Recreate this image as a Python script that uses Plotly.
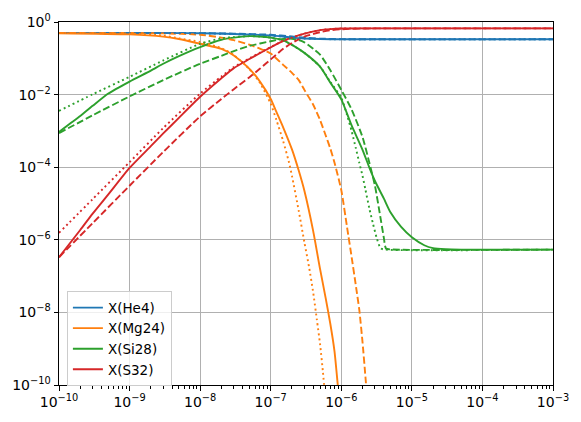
import plotly.graph_objects as go

# ---------------- data ----------------
t_he4 = [1e-10, 1e-9, 3e-9, 1e-8, 3e-8, 1e-7, 2e-7, 3e-7, 5e-7, 1e-6, 3e-6, 1e-3]
he4_solid = [0.500, 0.500, 0.499, 0.490, 0.468, 0.427, 0.372, 0.352, 0.340, 0.334, 0.3335, 0.3333]
he4_dashed = [0.500, 0.500, 0.500, 0.494, 0.478, 0.445, 0.400, 0.370, 0.348, 0.337, 0.3336, 0.3333]
he4_dotted = [0.500, 0.500, 0.499, 0.488, 0.465, 0.425, 0.372, 0.352, 0.340, 0.334, 0.3335, 0.3333]

t_mg24_solid = [1e-10, 1e-9, 3e-9, 5e-9, 1e-8, 2e-8, 3e-8, 5e-8, 7e-8, 1e-7, 1.2e-7, 1.5e-7,
                2e-7, 2.5e-7, 3e-7, 4e-7, 5e-7, 6e-7, 7e-7, 8e-7, 9e-7, 1e-6]
mg24_solid = [0.490, 0.455, 0.394, 0.339, 0.251, 0.182, 0.120, 0.0513, 0.0232, 7.59e-3, 3.39e-3,
              1.26e-3, 3.09e-4, 7.94e-5, 2.24e-5, 1.74e-6, 1.58e-7, 2.51e-8, 4.79e-9, 8.71e-10,
              8.3e-11, 1e-11]

t_mg24_dashed = [1e-10, 1e-9, 3e-9, 1e-8, 2e-8, 3e-8, 5e-8, 7e-8, 1e-7, 1.5e-7, 2e-7, 2.5e-7,
                 3e-7, 4e-7, 5e-7, 6e-7, 7e-7, 8e-7, 1e-6, 1.2e-6, 1.4e-6, 1.6e-6, 1.8e-6, 2e-6,
                 2.2e-6, 2.4e-6]
mg24_dashed = [0.500, 0.498, 0.485, 0.447, 0.372, 0.316, 0.237, 0.186, 0.135, 0.0661, 0.0398,
               0.0251, 0.0135, 5.25e-3, 2.0e-3, 7.59e-4, 3.24e-4, 1.35e-4, 2.34e-5, 2.4e-6,
               3.39e-7, 5.89e-8, 1.17e-8, 1.51e-9, 1.66e-10, 2e-11]

t_mg24_dotted = [1e-10, 1e-9, 3e-9, 5e-9, 1e-8, 2e-8, 3e-8, 5e-8, 7e-8, 1e-7, 1.2e-7, 1.5e-7,
                 1.8e-7, 2e-7, 2.5e-7, 3e-7, 3.5e-7, 4e-7, 4.5e-7, 5e-7, 5.5e-7, 6e-7]
mg24_dotted = [0.500, 0.479, 0.422, 0.355, 0.282, 0.191, 0.123, 0.0501, 0.0214, 5.62e-3, 2.04e-3,
               5.25e-4, 1.45e-4, 5.75e-5, 6.17e-6, 8.51e-7, 1.74e-7, 3.55e-8, 6.46e-9, 1.35e-9,
               2.24e-10, 3.2e-11]

t_si28_solid = [1e-10, 1.5e-10, 2e-10, 3e-10, 5e-10, 1e-9, 2e-9, 3e-9, 5e-9, 1e-8, 2e-8, 3e-8,
                5e-8, 7e-8, 1e-7, 1.5e-7, 2e-7, 3e-7, 5e-7, 7e-7, 1e-6, 1.4e-6, 2e-6, 2.5e-6,
                3e-6, 4e-6, 5e-6, 7e-6, 1e-5, 1.5e-5, 2e-5, 3e-5, 5e-5, 1e-3]
si28_solid = [9.33e-4, 1.70e-3, 2.57e-3, 4.90e-3, 0.0107, 0.0229, 0.0457, 0.0708, 0.115, 0.204,
              0.324, 0.372, 0.407, 0.398, 0.372, 0.313, 0.234, 0.141, 0.0589, 0.0214, 7.41e-3,
              1.41e-3, 3.02e-4, 9.77e-5, 4.17e-5, 1.38e-5, 5.62e-6, 2.29e-6, 1.17e-6, 7.08e-7,
              5.89e-7, 5.50e-7, 5.37e-7, 5.37e-7]

t_si28_dashed = [1e-10, 3e-10, 1e-9, 3e-9, 1e-8, 2e-8, 3e-8, 5e-8, 1e-7, 1.5e-7, 2e-7, 2.5e-7,
                 3e-7, 4e-7, 5e-7, 7e-7, 1e-6, 1.4e-6, 2e-6, 2.5e-6, 3e-6, 3.5e-6, 4e-6, 4.3e-6,
                 5e-6, 1e-3]
si28_dashed = [8.71e-4, 2.69e-3, 8.91e-3, 0.0251, 0.0708, 0.117, 0.158, 0.219, 0.295, 0.343,
               0.347, 0.316, 0.275, 0.182, 0.126, 0.0468, 0.0135, 3.89e-3, 6.76e-4, 1.32e-4,
               3.09e-5, 5.5e-6, 1.17e-6, 5.75e-7, 5.43e-7, 5.37e-7]

t_si28_dotted = [1e-10, 3e-10, 1e-9, 3e-9, 1e-8, 2e-8, 3e-8, 5e-8, 7e-8, 1e-7, 1.5e-7, 2e-7,
                 3e-7, 5e-7, 7e-7, 1e-6, 1.2e-6, 1.4e-6, 1.6e-6, 1.8e-6, 2e-6, 2.2e-6, 2.5e-6,
                 2.8e-6, 3.2e-6, 3.6e-6, 4e-6, 1e-3]
si28_dotted = [3.55e-3, 0.0102, 0.0309, 0.0871, 0.251, 0.355, 0.385, 0.407, 0.398, 0.372, 0.313,
               0.234, 0.141, 0.0589, 0.0224, 8.13e-3, 2.82e-3, 1.0e-3, 3.47e-4, 1.32e-4, 5.75e-5,
               2.40e-5, 7.24e-6, 2.88e-6, 1.07e-6, 5.89e-7, 5.43e-7, 5.37e-7]

t_s32_solid = [1e-10, 2e-10, 3e-10, 5e-10, 1e-9, 2e-9, 3e-9, 5e-9, 1e-8, 2e-8, 3e-8, 5e-8,
               7e-8, 1e-7, 1.5e-7, 2e-7, 3e-7, 5e-7, 7e-7, 1e-6, 2e-6, 1e-3]
s32_solid = [3.31e-7, 1.86e-6, 5.25e-6, 1.78e-5, 9.55e-5, 3.80e-4, 8.51e-4, 2.29e-3, 8.71e-3,
             0.0282, 0.0537, 0.0955, 0.138, 0.200, 0.302, 0.372, 0.479, 0.596, 0.638, 0.661,
             0.667, 0.667]

t_s32_dashed = [1e-10, 3e-10, 1e-9, 3e-9, 1e-8, 2e-8, 3e-8, 5e-8, 7e-8, 1e-7, 1.5e-7, 2e-7,
                2.5e-7, 3e-7, 4e-7, 5e-7, 7e-7, 1e-6, 2e-6, 4e-6, 1e-3]
s32_dashed = [3.31e-7, 2.88e-6, 3.09e-5, 2.63e-4, 2.51e-3, 7.59e-3, 0.0141, 0.0302, 0.0513,
              0.0933, 0.182, 0.263, 0.339, 0.398, 0.468, 0.525, 0.589, 0.631, 0.661, 0.667, 0.667]

t_s32_dotted = [1e-10, 3e-10, 1e-9, 3e-9, 1e-8, 2e-8, 3e-8, 5e-8, 1e-7, 1.5e-7, 2e-7, 3e-7,
                5e-7, 7e-7, 1e-6, 2e-6, 1e-3]
s32_dotted = [1.55e-6, 1.32e-5, 1.38e-4, 1.20e-3, 0.0107, 0.0316, 0.0575, 0.100, 0.204, 0.302,
              0.372, 0.479, 0.596, 0.638, 0.661, 0.667, 0.667]

species = ["X(He4)", "X(Mg24)", "X(Si28)", "X(S32)"]
colors = ["#1f77b4", "#ff7f0e", "#2ca02c", "#d62728"]

x_tickvals = [1e-10, 1e-9, 1e-8, 1e-7, 1e-6, 1e-5, 1e-4, 1e-3]
x_ticktext = ["10<sup>\u221210</sup>", "10<sup>\u22129</sup>", "10<sup>\u22128</sup>",
              "10<sup>\u22127</sup>", "10<sup>\u22126</sup>", "10<sup>\u22125</sup>",
              "10<sup>\u22124</sup>", "10<sup>\u22123</sup>"]
y_tickvals = [1e-10, 1e-8, 1e-6, 1e-4, 1e-2, 1]
y_ticktext = ["10<sup>\u221210</sup>", "10<sup>\u22128</sup>", "10<sup>\u22126</sup>",
              "10<sup>\u22124</sup>", "10<sup>\u22122</sup>", "10<sup>0</sup>"]

# --------------------------------------------------------------------------
solid_sets = [(t_he4, he4_solid), (t_mg24_solid, mg24_solid),
              (t_si28_solid, si28_solid), (t_s32_solid, s32_solid)]
dashed_sets = [(t_he4, he4_dashed), (t_mg24_dashed, mg24_dashed),
               (t_si28_dashed, si28_dashed), (t_s32_dashed, s32_dashed)]
dotted_sets = [(t_he4, he4_dotted), (t_mg24_dotted, mg24_dotted),
               (t_si28_dotted, si28_dotted), (t_s32_dotted, s32_dotted)]

LW = 1.9
SM = 0.6
fig = go.Figure()
for i, (tx, yy) in enumerate(solid_sets):
    fig.add_trace(go.Scatter(x=tx, y=yy, mode="lines", name=species[i], showlegend=True,
                             line=dict(color=colors[i], width=LW, shape="spline",
                                       smoothing=SM)))
for i, (tx, yy) in enumerate(dashed_sets):
    fig.add_trace(go.Scatter(x=tx, y=yy, mode="lines", showlegend=False,
                             line=dict(color=colors[i], width=LW, dash="7px,3px",
                                       shape="spline", smoothing=SM)))
for i, (tx, yy) in enumerate(dotted_sets):
    fig.add_trace(go.Scatter(x=tx, y=yy, mode="lines", showlegend=False,
                             line=dict(color=colors[i], width=LW, dash="1.9px,3.1px",
                                       shape="spline", smoothing=SM)))

minor_x = [k * 10.0 ** e for e in range(-10, -3) for k in range(2, 10)]

axis_common = dict(
    type="log", showline=True, linecolor="black", linewidth=1, mirror=True,
    ticks="outside", ticklen=4.5, tickwidth=1, tickcolor="black",
    showgrid=True, gridcolor="#b0b0b0", gridwidth=1, zeroline=False,
    tickfont=dict(family="DejaVu Sans", size=14, color="black"),
)
fig.update_xaxes(range=[-10, -3], tickmode="array", tickvals=x_tickvals, ticktext=x_ticktext,
                 minor=dict(tickmode="array", tickvals=minor_x, ticks="outside", ticklen=2.5,
                            tickwidth=0.8, tickcolor="black", showgrid=False),
                 **axis_common)
fig.update_yaxes(range=[-10, 0], tickmode="array", tickvals=y_tickvals, ticktext=y_ticktext,
                 **axis_common)

fig.update_layout(
    width=581, height=422,
    margin=dict(l=59, r=26, t=16, b=36, pad=0),
    paper_bgcolor="white", plot_bgcolor="white",
    font=dict(family="DejaVu Sans", size=13.5, color="black"),
    legend=dict(x=0.016, y=0.258, xanchor="left", yanchor="top",
                bgcolor="rgba(255,255,255,0.8)", bordercolor="#cccccc", borderwidth=1,
                font=dict(family="DejaVu Sans", size=13.5, color="black"),
                itemwidth=30),
)

fig.write_html("out.html", config={"displayModeBar": False},
               post_script="document.body.style.margin='0';")
